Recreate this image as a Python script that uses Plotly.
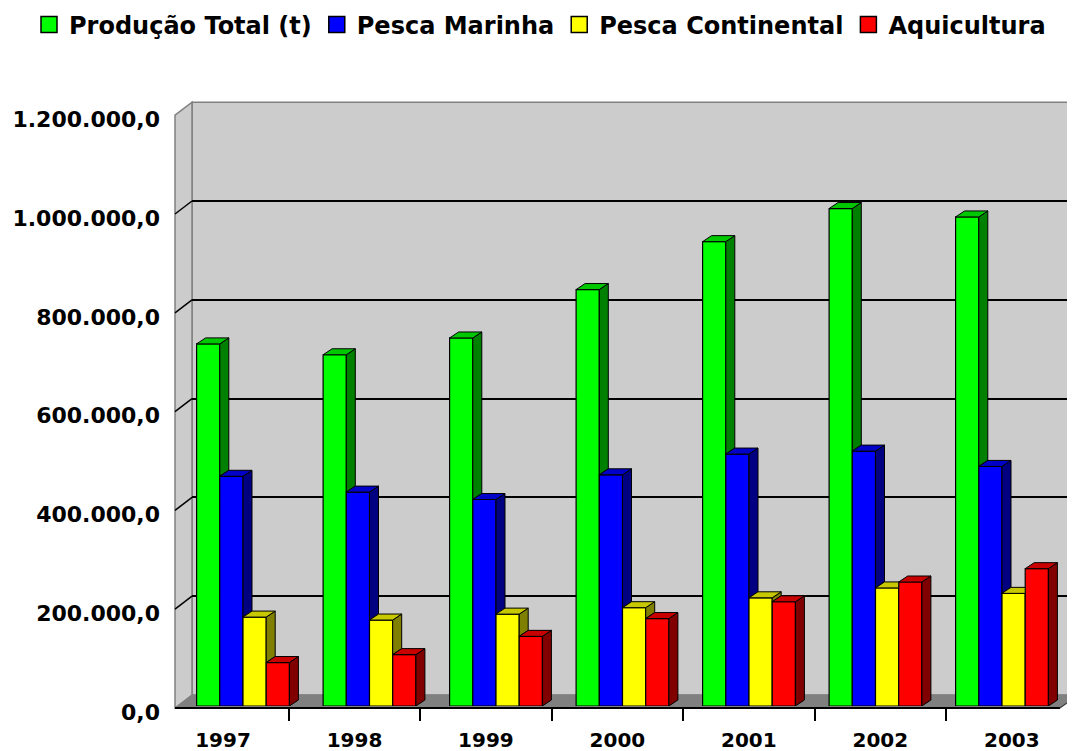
import plotly.graph_objects as go

# ---------------- data ----------------
years = ['1997', '1998', '1999', '2000', '2001', '2002', '2003']
producao_total = [733000, 711000, 745000, 843000, 940000, 1007000, 990000]
pesca_marinha = [465000, 433000, 418000, 468000, 510000, 516000, 485000]
pesca_continental = [180000, 174000, 186000, 199000, 219000, 239000, 228000]
aquicultura = [88000, 104000, 141000, 177000, 211000, 251000, 278000]
series_names = ['Produção Total (t)', 'Pesca Marinha', 'Pesca Continental', 'Aquicultura']
y_tick_values = [0, 200000, 400000, 600000, 800000, 1000000, 1200000]
y_tick_labels = ['0,0', '200.000,0', '400.000,0', '600.000,0', '800.000,0',
                 '1.000.000,0', '1.200.000,0']

# ---------------- styles ----------------
front_colors = ['#00FF00', '#0000FF', '#FFFF00', '#FF0000']
side_colors = ['#008000', '#000080', '#808000', '#800000']
top_colors = ['#00C800', '#0000C8', '#C8C800', '#C80000']
WALL = '#CCCCCC'
FLOOR = '#808080'
EDGE = '#808080'
FONT = 'DejaVu Sans'

# the page body adds an 8px margin; the figure is sized to fill the window
PAGE_OFF = 8
W, H = 1075 - PAGE_OFF, 751 - PAGE_OFF


def px(x):
    return (x - PAGE_OFF) / W


def py(y):
    return 1 - (y - PAGE_OFF) / H


SCALE = 98.8 / 200000.0          # pixels per unit value
YMAX = 1200000
# back wall plane
BW_L, BW_R, BW_0 = 192, 1075, 695
BW_T = BW_0 - YMAX * SCALE
# front plane
FR_L, FR_0, STEP_F = 175, 708, 126.4
FR_R = FR_L + 7 * STEP_F
FR_T = FR_0 - YMAX * SCALE
# bar plane
BAR_L, BAR_0, STEP_B = 179.75, 706, 126.5
BAR_R = BAR_L + 7 * STEP_B
BAR_TOP = 100

BARW = 23.2 / STEP_B
DX = 9.0 / STEP_B
DY = 6.0 / SCALE

series = [producao_total, pesca_marinha, pesca_continental, aquicultura]
idx = list(range(len(years)))

fig = go.Figure()

# bar front faces
for j, vals in enumerate(series):
    fig.add_trace(go.Bar(
        x=idx, y=vals, width=BARW, offset=-2 * BARW + j * BARW,
        marker=dict(color=front_colors[j], line=dict(color='black', width=1.2)),
        xaxis='x2', yaxis='y2', showlegend=False, hoverinfo='skip'))

# side and top faces (depth effect)
for j, vals in enumerate(series):
    off = -2 * BARW + j * BARW
    sx, sy, tx, ty = [], [], [], []
    for i, v in enumerate(vals):
        xl = i + off
        xr = xl + BARW
        nxt = series[j + 1][i] if j < len(series) - 1 else 0
        if nxt < v:
            sx += [xr, xr + DX, xr + DX, xr, xr, None]
            sy += [nxt, nxt + DY, v + DY, v, nxt, None]
        if nxt > v:
            tx += [xl, xl + DX, xr, xr, xl, None]
            ty += [v, v + DY, v + DY, v, v, None]
        else:
            tx += [xl, xl + DX, xr + DX, xr, xl, None]
            ty += [v, v + DY, v + DY, v, v, None]
    fig.add_trace(go.Scatter(x=sx, y=sy, fill='toself', fillcolor=side_colors[j],
                             mode='lines', line=dict(color='black', width=1),
                             xaxis='x2', yaxis='y2', showlegend=False, hoverinfo='skip'))
    fig.add_trace(go.Scatter(x=tx, y=ty, fill='toself', fillcolor=top_colors[j],
                             mode='lines', line=dict(color='black', width=1),
                             xaxis='x2', yaxis='y2', showlegend=False, hoverinfo='skip'))

# legend entries
for j, name in enumerate(series_names):
    fig.add_trace(go.Scatter(
        x=[None], y=[None], mode='markers', name=name,
        marker=dict(symbol='square', size=16, color=front_colors[j],
                    line=dict(color='black', width=1.5)),
        xaxis='x2', yaxis='y2', hoverinfo='skip'))

# helper traces so the wall and front-plane subplots exist
fig.add_trace(go.Scatter(x=[None], y=[None], xaxis='x', yaxis='y', showlegend=False,
                         hoverinfo='skip'))
fig.add_trace(go.Scatter(x=years, y=[0] * len(years), mode='markers',
                         marker=dict(opacity=0), xaxis='x3', yaxis='y3',
                         showlegend=False, hoverinfo='skip'))

# ---------------- decorations: walls and floor ----------------
shapes = []
shapes.append(dict(type='rect', xref='paper', yref='paper', layer='below',
                   x0=px(BW_L), x1=px(BW_R + 2), y0=py(BW_0), y1=py(BW_T),
                   fillcolor=WALL, line=dict(color=EDGE, width=1.5)))
shapes.append(dict(type='path', xref='paper', yref='paper', layer='below',
                   path=f"M{px(FR_L)},{py(FR_T)} L{px(BW_L)},{py(BW_T)} "
                        f"L{px(BW_L)},{py(BW_0)} L{px(FR_L)},{py(FR_0)} Z",
                   fillcolor=WALL, line=dict(color=EDGE, width=1.5)))
shapes.append(dict(type='path', xref='paper', yref='paper', layer='below',
                   path=f"M{px(FR_L)},{py(FR_0)} L{px(BW_L)},{py(BW_0)} "
                        f"L{px(BW_R + 2)},{py(BW_0)} L{px(FR_R)},{py(FR_0)} Z",
                   fillcolor=FLOOR, line=dict(color=FLOOR, width=1)))
shapes.append(dict(type='line', xref='paper', yref='paper', layer='above',
                   x0=px(FR_R), y0=py(FR_0), x1=px(BW_R + 2), y1=py(BW_0 + 1),
                   line=dict(color='#404040', width=1.2)))
for v in y_tick_values[1:-1]:
    shapes.append(dict(type='line', xref='paper', yref='paper', layer='below',
                       x0=px(FR_L), y0=py(FR_0 - v * SCALE),
                       x1=px(BW_L), y1=py(BW_0 - v * SCALE),
                       line=dict(color='black', width=1.5)))

fig.update_layout(
    width=W, height=H, autosize=False,
    margin=dict(l=0, r=0, t=0, b=0, pad=0, autoexpand=False),
    paper_bgcolor='white', plot_bgcolor='rgba(0,0,0,0)',
    barmode='overlay', hovermode=False,
    font=dict(family=FONT, color='black'),
    shapes=shapes,
    showlegend=True,
    legend=dict(orientation='h', x=px(540), xanchor='center', y=py(25), yanchor='middle',
                font=dict(family=FONT, size=24, color='black', weight='bold'),
                bgcolor='rgba(0,0,0,0)', itemsizing='trace', traceorder='normal'),
    xaxis=dict(domain=[px(BW_L), 1.0], range=[0, 1], visible=False, anchor='y'),
    yaxis=dict(domain=[py(BW_0), py(BW_T)], range=[0, YMAX], anchor='x',
               tickvals=y_tick_values[1:-1], showticklabels=False, ticks='',
               showgrid=True, gridcolor='black', gridwidth=1.5,
               zeroline=False, showline=False),
    xaxis2=dict(domain=[px(BAR_L), px(BAR_R)], range=[-0.5, len(years) - 0.5],
                visible=False, anchor='y2'),
    yaxis2=dict(domain=[py(BAR_0), py(BAR_TOP)],
                range=[0, (BAR_0 - BAR_TOP) / SCALE], visible=False, anchor='x2'),
    xaxis3=dict(domain=[px(FR_L), px(FR_R)], type='category', anchor='free',
                position=py(FR_0), showline=True, linecolor='black', linewidth=2,
                ticks='outside', ticklen=12, tickwidth=1.5, tickcolor='black',
                tickson='boundaries', showgrid=False, zeroline=False,
                ticklabelstandoff=14,
                tickfont=dict(family=FONT, size=20, color='black', weight='bold')),
    yaxis3=dict(domain=[py(FR_0 + 4), py(FR_T + 4)], range=[0, YMAX], anchor='free',
                position=px(160), tickvals=y_tick_values, ticktext=y_tick_labels,
                ticks='', showline=False, showgrid=False, zeroline=False,
                tickfont=dict(family=FONT, size=22, color='black', weight='bold')),
)

fig.write_html("out.html")
